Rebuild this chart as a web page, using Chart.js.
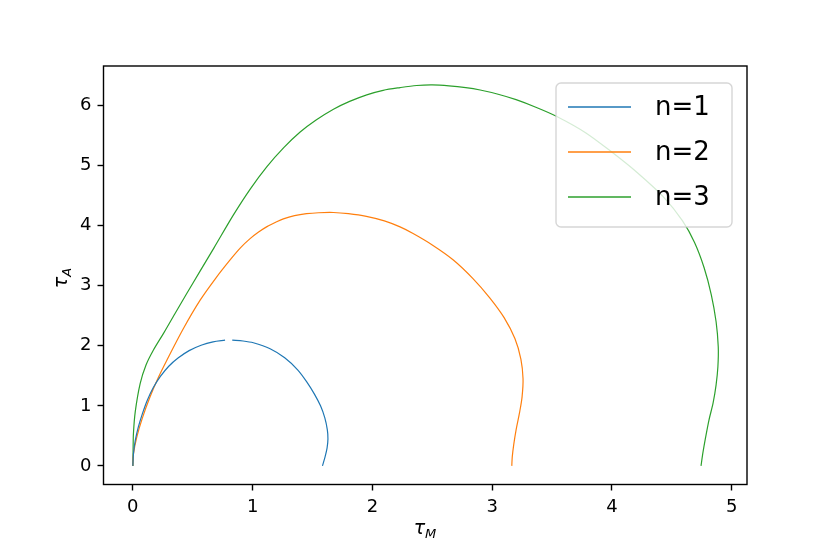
<!DOCTYPE html>
<html>
<head>
<meta charset="utf-8">
<script src="https://cdn.jsdelivr.net/npm/chart.js@4.4.1/dist/chart.umd.min.js"></script>
<style>
  html, body { margin: 0; padding: 0; background: #fff; }
  #wrap { width: 830px; height: 554px; }
</style>
</head>
<body>
<div id="wrap"><canvas id="myChart" width="830" height="554"></canvas></div>
<script>
// values (tau_M, tau_A); null = gap in the line
const n1X = [0, 0.005, 0.02, 0.045, 0.08, 0.12, 0.17, 0.23, 0.3, 0.38, 0.47, 0.57, 0.67, 0.77, null, 0.83, 0.92, 1.006, 1.146, 1.268, 1.376, 1.452, 1.515, 1.567, 1.603, 1.624, 1.629, 1.622, 1.605, 1.583];
const n1Y = [0, 0.2, 0.42, 0.64, 0.87, 1.09, 1.30, 1.49, 1.66, 1.80, 1.92, 2.01, 2.066, 2.093, null, 2.094, 2.08, 2.05, 1.95, 1.80, 1.60, 1.40, 1.20, 1.0, 0.8, 0.6, 0.45, 0.3, 0.15, 0];

const n2X = [0, 0.005, 0.033, 0.08, 0.144, 0.21, 0.284, 0.42, 0.562, 0.69, 0.812, 0.9, 0.979, 1.05, 1.12, 1.2, 1.257, 1.35, 1.45, 1.55, 1.675, 1.8, 1.95, 2.1, 2.231, 2.34, 2.5, 2.676, 2.84, 2.98, 3.1, 3.19, 3.24, 3.258, 3.25, 3.23, 3.2, 3.18, 3.168, 3.164];
const n2Y = [0, 0.2, 0.48, 0.8, 1.15, 1.46, 1.76, 2.28, 2.76, 3.12, 3.43, 3.635, 3.785, 3.895, 3.985, 4.065, 4.115, 4.167, 4.20, 4.216, 4.22, 4.20, 4.155, 4.08, 3.98, 3.87, 3.68, 3.43, 3.12, 2.80, 2.47, 2.12, 1.78, 1.45, 1.15, 0.9, 0.6, 0.35, 0.15, 0];

const n3X = [0, 0.002, 0.005, 0.02, 0.061, 0.11, 0.172, 0.26, 0.35, 0.45, 0.56, 0.68, 0.84, 0.98, 1.118, 1.26, 1.397, 1.53, 1.675, 1.81, 1.953, 2.09, 2.231, 2.37, 2.5, 2.64, 2.78, 2.9, 3.05, 3.2, 3.37, 3.54, 3.78, 4.01, 4.22, 4.43, 4.59, 4.69, 4.77, 4.83, 4.87, 4.888, 4.885, 4.87, 4.845, 4.81, 4.78, 4.76, 4.744];
const n3Y = [0, 0.25, 0.54, 0.9, 1.37, 1.68, 1.93, 2.22, 2.53, 2.87, 3.24, 3.64, 4.18, 4.61, 4.98, 5.30, 5.56, 5.76, 5.94, 6.07, 6.18, 6.255, 6.30, 6.335, 6.345, 6.33, 6.30, 6.26, 6.19, 6.10, 5.97, 5.82, 5.55, 5.21, 4.87, 4.48, 4.08, 3.72, 3.30, 2.85, 2.40, 1.98, 1.65, 1.35, 1.05, 0.76, 0.45, 0.22, 0];

const seriesLabels = ['n=1', 'n=2', 'n=3'];
const xTicks = [0, 1, 2, 3, 4, 5];
const yTicks = [0, 1, 2, 3, 4, 5, 6];

const colors = ['#1f77b4', '#ff7f0e', '#2ca02c'];
const FONT = "'DejaVu Sans', sans-serif";

function toPoints(xs, ys) {
  return xs.map((x, i) => ({ x: x, y: ys[i] }));
}

// frame around the plot area (matplotlib style box)
const framePlugin = {
  id: 'frame',
  afterDatasetsDraw(chart) {
    const a = chart.chartArea;
    const c = chart.ctx;
    c.save();
    c.strokeStyle = '#000';
    c.lineWidth = 1.4;
    c.strokeRect(a.left, a.top, a.right - a.left, a.bottom - a.top);
    c.restore();
  }
};

// legend box inside the axes, semi transparent like matplotlib
const legendPlugin = {
  id: 'boxLegend',
  afterDatasetsDraw(chart) {
    const c = chart.ctx;
    const x0 = 556, y0 = 83, w = 176, h = 144, r = 5;
    c.save();
    c.beginPath();
    c.roundRect(x0, y0, w, h, r);
    c.fillStyle = 'rgba(255,255,255,0.8)';
    c.fill();
    c.strokeStyle = 'rgba(204,204,204,0.8)';
    c.lineWidth = 1.4;
    c.stroke();
    chart.data.datasets.forEach((ds, i) => {
      const y = 107 + i * 45;
      c.beginPath();
      c.moveTo(568, y);
      c.lineTo(631, y);
      c.strokeStyle = ds.borderColor;
      c.lineWidth = 1.3;
      c.stroke();
      c.fillStyle = '#000';
      c.font = '26px ' + FONT;
      c.textBaseline = 'middle';
      c.textAlign = 'left';
      c.fillText(ds.label, 655, y + 1);
    });
    c.restore();
  }
};

// axis titles with a subscript
const titlePlugin = {
  id: 'axisTitles',
  afterDraw(chart) {
    const c = chart.ctx;
    function sub(main, s, cx, cy) {
      c.font = 'italic 19px ' + FONT;
      const w1 = c.measureText(main).width;
      c.font = 'italic 13px ' + FONT;
      const w2 = c.measureText(s).width;
      let x = cx - (w1 + w2) / 2;
      c.textAlign = 'left';
      c.textBaseline = 'alphabetic';
      c.fillStyle = '#000';
      c.font = 'italic 19px ' + FONT;
      c.fillText(main, x, cy);
      c.font = 'italic 13px ' + FONT;
      c.fillText(s, x + w1, cy + 4);
    }
    c.save();
    sub('\u03c4', 'M', 425, 534);
    c.restore();
    c.save();
    c.translate(67, 278);
    c.rotate(-Math.PI / 2);
    sub('\u03c4', 'A', 0, 0);
    c.restore();
  }
};

const ctx = document.getElementById('myChart');

new Chart(ctx, {
  type: 'scatter',
  data: {
    datasets: [
      { label: seriesLabels[0], data: toPoints(n1X, n1Y), borderColor: colors[0] },
      { label: seriesLabels[1], data: toPoints(n2X, n2Y), borderColor: colors[1] },
      { label: seriesLabels[2], data: toPoints(n3X, n3Y), borderColor: colors[2] }
    ].map(d => Object.assign(d, {
      showLine: true,
      pointRadius: 0,
      borderWidth: 1.2,
      tension: 0.3,
      spanGaps: false,
      fill: false
    }))
  },
  options: {
    responsive: false,
    animation: false,
    devicePixelRatio: 1,
    layout: { padding: { top: 66, right: 83, left: 0, bottom: 0 } },
    plugins: {
      legend: { display: false },
      tooltip: { enabled: false }
    },
    scales: {
      x: {
        type: 'linear',
        min: -0.245,
        max: 5.128,
        afterBuildTicks(scale) { scale.ticks = xTicks.map(v => ({ value: v })); },
        afterFit(scale) { scale.height = 69.5; },
        grid: { drawOnChartArea: false, drawTicks: true, tickLength: 6, tickWidth: 1.4, tickColor: '#000' },
        border: { display: false },
        ticks: { color: '#000', padding: 6, maxRotation: 0, font: { family: FONT, size: 18 } }
      },
      y: {
        type: 'linear',
        min: -0.31,
        max: 6.66,
        afterBuildTicks(scale) { scale.ticks = yTicks.map(v => ({ value: v })); },
        afterFit(scale) { scale.width = 103.5; },
        grid: { drawOnChartArea: false, drawTicks: true, tickLength: 6, tickWidth: 1.4, tickColor: '#000' },
        border: { display: false },
        ticks: { color: '#000', padding: 6, font: { family: FONT, size: 18 } }
      }
    }
  },
  plugins: [framePlugin, legendPlugin, titlePlugin]
});
</script>
</body>
</html>
